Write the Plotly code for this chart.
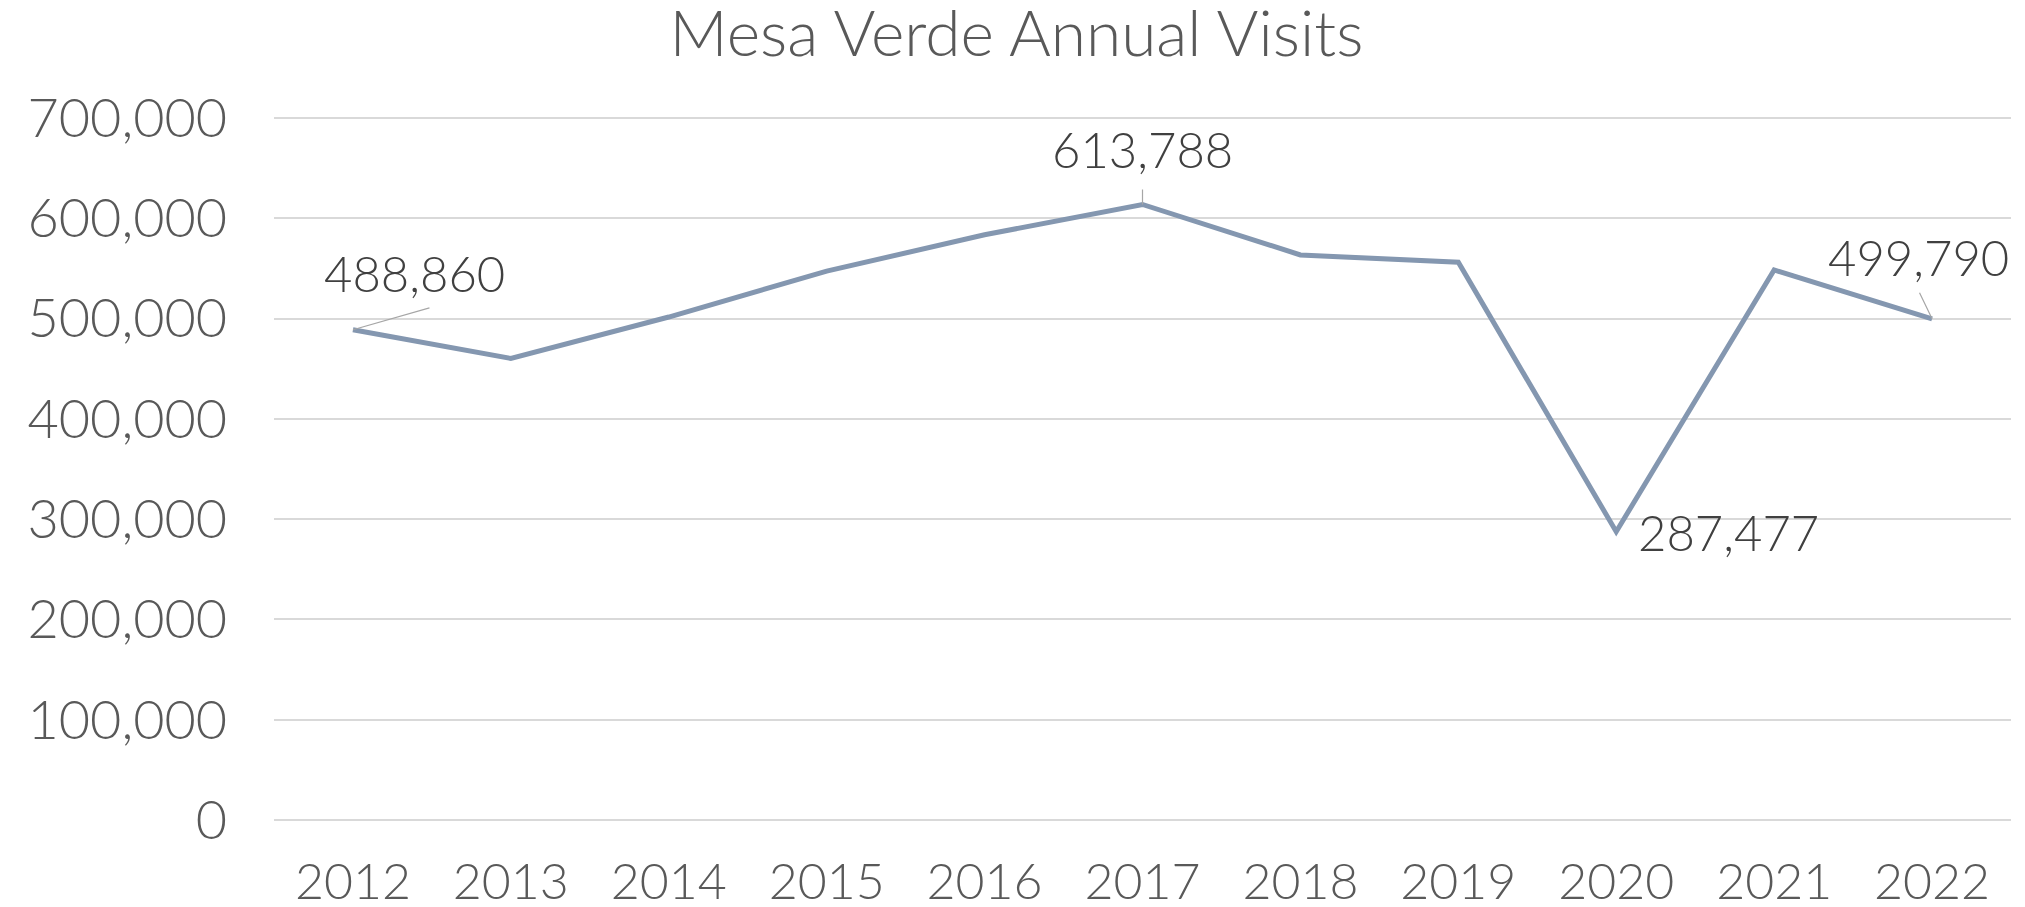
import plotly.graph_objects as go

years = [2012, 2013, 2014, 2015, 2016, 2017, 2018, 2019, 2020, 2021, 2022]
visits = [488860, 460237, 501536, 547325, 583527, 613788, 563420, 556203, 287477, 548477, 499790]
y_ticks = [0, 100000, 200000, 300000, 400000, 500000, 600000, 700000]
title_text = "Mesa Verde Annual Visits"

FONT = "Lato"
TICK_COLOR = "#595959"
LABEL_COLOR = "#404040"
LINE_COLOR = "#8497B0"
GRID_COLOR = "#D9D9D9"

fig = go.Figure()
fig.add_trace(go.Scatter(
    x=years, y=visits, mode="lines",
    line=dict(color=LINE_COLOR, width=5),
    hoverinfo="skip", showlegend=False,
))

# data labels: (index, xshift, yshift, leader (ax, ay) or None)
labels = [
    (0, 62, 57, (77, -22)),
    (5, 0, 55, (0, -16)),
    (8, 112, 0, None),
    (10, -14, 62, (-13, -27)),
]
for i, xs, ys, leader in labels:
    if leader is not None:
        fig.add_annotation(
            x=years[i], y=visits[i], xref="x", yref="y", text=" ",
            font=dict(size=1), borderpad=0,
            showarrow=True, arrowhead=0, arrowwidth=1.2, arrowcolor="#A6A6A6",
            ax=leader[0], ay=leader[1], standoff=0,
        )
    fig.add_annotation(
        x=years[i], y=visits[i], xref="x", yref="y",
        text=f"{visits[i]:,}", showarrow=False,
        xshift=xs, yshift=ys,
        font=dict(family=FONT, size=49, color=LABEL_COLOR, weight=300),
    )

fig.update_layout(
    width=2017, height=899,
    margin=dict(l=266, r=14, t=108, b=87, autoexpand=False),
    paper_bgcolor="white", plot_bgcolor="white",
    title=dict(
        text=title_text, x=0.5, xref="container", xanchor="center",
        y=1 - 26 / 899, yref="container", yanchor="middle",
        font=dict(family=FONT, size=64, color=TICK_COLOR, weight=300),
    ),
    xaxis=dict(
        range=[2011.5, 2022.5], tickvals=years, tickformat="d", automargin=False,
        showgrid=False, zeroline=False, showline=False,
        ticks="outside", ticklen=18, tickcolor="rgba(0,0,0,0)",
        tickfont=dict(family=FONT, size=50, color=TICK_COLOR, weight=300),
    ),
    yaxis=dict(
        range=[0, 702000], tickvals=y_ticks, tickformat=",", automargin=False,
        showgrid=True, gridcolor=GRID_COLOR, gridwidth=1.5,
        zeroline=True, zerolinecolor=GRID_COLOR, zerolinewidth=1.5, showline=False,
        ticks="outside", ticklen=35, tickcolor="rgba(0,0,0,0)",
        tickfont=dict(family=FONT, size=54, color=TICK_COLOR, weight=300),
    ),
)

fig.write_html("out.html")
